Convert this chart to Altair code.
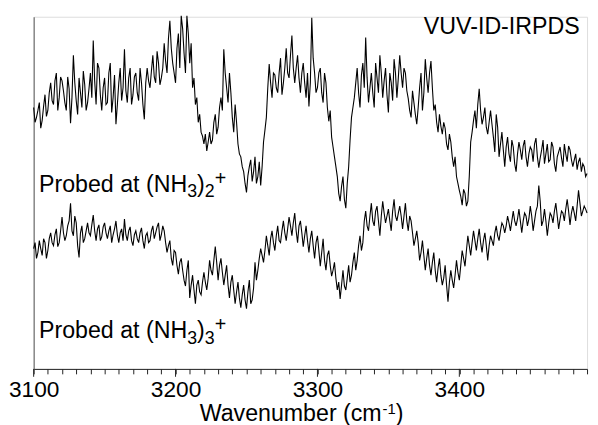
import altair as alt
import pandas as pd

# Wavenumber grids (cm-1)
wn_even = list(range(3100, 3491, 2))
wn_odd = list(range(3101, 3490, 2))

# Ion signal probed at (NH3)2+ (arbitrary units)
probe_nh3_2_even = [
    265, 255, 270, 252, 278, 262, 290, 268, 300, 275,
    292, 270, 296, 249, 318, 272, 295, 265, 288, 270,
    300, 333, 268, 305, 262, 295, 270, 310, 275, 248,
    290, 272, 324, 270, 305, 278, 300, 272, 290, 253,
    305, 285, 318, 290, 310, 295, 330, 300, 353, 310,
    290, 340, 358, 320, 358, 310, 285, 268, 250, 240,
    228, 221, 240, 232, 258, 245, 275, 324, 285, 300,
    255, 268, 228, 215, 200, 179, 205, 190, 215, 195,
    186, 230, 255, 309, 275, 298, 280, 315, 290, 325,
    295, 338, 290, 318, 280, 310, 275, 266, 356, 300,
    285, 305, 270, 290, 251, 235, 215, 195, 170, 195,
    163, 205, 255, 275, 305, 265, 310, 336, 270, 300,
    265, 295, 318, 275, 305, 260, 290, 314, 275, 318,
    285, 300, 274, 255, 270, 248, 285, 262, 314, 280,
    312, 262, 250, 258, 238, 244, 222, 230, 205, 195,
    181, 166, 178, 170, 230, 252, 244, 284, 248, 265,
    238, 262, 235, 258, 215, 240, 205, 235, 210, 225,
    200, 230, 212, 232, 205, 225, 210, 234, 204, 222,
    208, 228, 212, 225, 200, 220, 214, 228, 210, 222,
    205, 218, 210, 200, 205, 198,
]
probe_nh3_2_odd = [
    250, 262, 244, 266, 256, 280, 272, 292, 262, 296,
    282, 262, 284, 275, 290, 258, 280, 302, 262, 284,
    275, 292, 310, 278, 285, 268, 300, 260, 298, 268,
    305, 285, 282, 295, 268, 296, 280, 305, 268, 290,
    292, 302, 296, 322, 288, 305, 312, 335, 325, 300,
    325, 305, 345, 300, 340, 330, 295, 275, 258, 236,
    238, 230, 228, 250, 238, 265, 262, 300, 270, 280,
    240, 250, 218, 205, 188, 196, 212, 200, 188, 210,
    205, 242, 285, 290, 300, 285, 300, 278, 305, 300,
    318, 305, 305, 295, 300, 290, 300, 290, 315, 280,
    300, 280, 300, 265, 262, 225, 205, 178, 185, 172,
    188, 232, 265, 290, 280, 298, 285, 295, 285, 280,
    310, 280, 300, 292, 278, 300, 272, 300, 295, 300,
    305, 282, 262, 282, 258, 265, 300, 280, 295, 300,
    285, 268, 240, 246, 250, 228, 238, 215, 215, 188,
    175, 182, 165, 195, 240, 262, 268, 262, 255, 245,
    250, 248, 220, 245, 228, 222, 225, 218, 232, 208,
    218, 222, 226, 215, 218, 222, 228, 215, 214, 232,
    218, 210, 230, 208, 215, 225, 205, 218, 226, 212,
    212, 202, 214, 208, 195,
]

# Ion signal probed at (NH3)3+ (arbitrary units)
probe_nh3_3_even = [
    122, 112, 130, 115, 128, 120, 138, 125, 142, 128,
    154, 130, 145, 168, 135, 148, 113, 145, 132, 148,
    135, 156, 130, 146, 134, 148, 132, 145, 136, 150,
    128, 142, 152, 130, 144, 125, 140, 128, 143, 122,
    138, 130, 145, 138, 148, 136, 140, 118, 130, 105,
    118, 96, 112, 90, 100, 72, 95, 66, 90, 75,
    98, 80, 110, 95, 124, 90, 112, 85, 105, 72,
    95, 66, 88, 62, 85, 61, 90, 70, 108, 100,
    122, 108, 135, 115, 140, 120, 145, 128, 150, 130,
    154, 135, 158, 128, 150, 124, 145, 118, 140, 112,
    135, 104, 132, 100, 120, 94, 108, 80, 71, 100,
    80, 105, 95, 118, 110, 135, 128, 160, 140, 168,
    145, 165, 135, 170, 148, 162, 140, 172, 150, 165,
    142, 168, 140, 150, 125, 140, 110, 130, 100, 122,
    95, 118, 88, 112, 85, 105, 68, 100, 82, 110,
    90, 120, 104, 135, 115, 140, 120, 142, 118, 138,
    110, 135, 125, 145, 130, 148, 138, 155, 140, 160,
    145, 162, 138, 158, 145, 165, 140, 160, 186, 145,
    162, 135, 158, 148, 168, 142, 160, 150, 172, 146,
    165, 150, 181, 155, 165, 158,
]
probe_nh3_3_odd = [
    128, 118, 122, 132, 112, 132, 128, 136, 124, 140,
    138, 135, 150, 140, 155, 125, 138, 128, 140, 138,
    146, 140, 142, 130, 144, 138, 140, 128, 142, 136,
    138, 130, 136, 140, 130, 136, 132, 138, 130, 135,
    128, 140, 132, 144, 130, 145, 128, 125, 112, 120,
    105, 108, 100, 84, 110, 85, 80, 85, 78, 88,
    88, 92, 100, 110, 108, 105, 98, 95, 85, 88,
    80, 78, 72, 75, 70, 78, 66, 82, 90, 112,
    115, 120, 125, 132, 128, 135, 130, 140, 138, 142,
    145, 148, 140, 145, 138, 135, 130, 132, 125, 128,
    120, 118, 110, 115, 105, 100, 92, 88, 85, 84,
    92, 88, 108, 100, 125, 120, 150, 145, 155, 150,
    160, 150, 155, 158, 155, 150, 160, 155, 158, 155,
    155, 150, 155, 138, 132, 128, 118, 115, 112, 105,
    108, 100, 102, 95, 92, 85, 88, 90, 95, 98,
    105, 112, 120, 125, 128, 130, 132, 128, 130, 125,
    125, 130, 138, 135, 140, 145, 145, 148, 150, 150,
    152, 150, 150, 155, 152, 155, 150, 165, 170, 150,
    150, 148, 155, 160, 155, 152, 158, 162, 160, 158,
    158, 165, 168, 160, 162,
]

series_names = ["(NH3)2+", "(NH3)3+"]
minor_ticks = list(range(3100, 3491, 10))
major_ticks = [3100, 3200, 3300, 3400]
x_domain = [3100, 3490]
y_domain = [0, 357]

# Annotation anchors (data coordinates)
label_top_anchor = (3103.8, 179.3)
label_bottom_anchor = (3103.8, 31.0)
tag_anchor = (3375.0, 339.3)
xtitle_anchor = (3217.0, -53.3)

FONT = "Liberation Sans"

wn_all = wn_even + wn_odd
df = pd.concat([
    pd.DataFrame({"wavenumber": wn_all, "signal": probe_nh3_2_even + probe_nh3_2_odd,
                  "series": series_names[0]}),
    pd.DataFrame({"wavenumber": wn_all, "signal": probe_nh3_3_even + probe_nh3_3_odd,
                  "series": series_names[1]}),
]).sort_values(["series", "wavenumber"]).reset_index(drop=True)

x_scale = alt.Scale(domain=x_domain, nice=False, zero=False)
y_scale = alt.Scale(domain=y_domain, nice=False, zero=False)

x_enc = alt.X(
    "wavenumber:Q",
    scale=x_scale,
    axis=alt.Axis(
        values=minor_ticks,
        tickCount=200,
        format="d",
        labelExpr="datum.value % 100 === 0 ? datum.label : ''",
        tickSize=5,
        labelFont=FONT,
        labelFontSize=23,
        labelColor="black",
        labelPadding=5,
        labelFlush=False,
        labelOverlap=False,
        labelBound=False,
        tickColor="#222",
        domainColor="#222",
        tickWidth=1,
        grid=False,
        title=None,
    ),
)
y_enc = alt.Y(
    "signal:Q",
    scale=y_scale,
    axis=alt.Axis(ticks=False, labels=False, grid=False, title=None, domainColor="#555"),
)

lines = alt.Chart(df).mark_line(color="black", strokeWidth=1.1).encode(
    x=x_enc, y=y_enc, detail="series:N", order="wavenumber:Q"
)

major = alt.Chart(pd.DataFrame({"t": major_ticks})).mark_rule(
    color="#222", strokeWidth=1
).encode(x=alt.X("t:Q", scale=x_scale), y=alt.value(357), y2=alt.value(365))


def piece(text, anchor, size, dx=0, dy=0):
    d = pd.DataFrame({"x": [anchor[0]], "y": [anchor[1]], "t": [text]})
    return alt.Chart(d).mark_text(
        align="left", baseline="alphabetic", font=FONT, fontSize=size,
        color="black", dx=dx, dy=dy,
    ).encode(x="x:Q", y="y:Q", text="t:N")


def formula_label(sub2, anchor):
    return [
        piece("Probed at (NH", anchor, 23.5),
        piece("3", anchor, 18, dx=150.2, dy=5.5),
        piece(")", anchor, 23.5, dx=160.2),
        piece(sub2, anchor, 18, dx=168.0, dy=5.5),
        piece("+", anchor, 20, dx=178.0, dy=-7),
    ]


texts = (
    formula_label("2", label_top_anchor)
    + formula_label("3", label_bottom_anchor)
    + [piece("VUV-ID-IRPDS", tag_anchor, 23.5)]
    + [
        piece("Wavenumber (cm", xtitle_anchor, 23.5),
        piece("-1", xtitle_anchor, 15, dx=185.4, dy=-8),
        piece(")", xtitle_anchor, 23.5, dx=198.7),
    ]
)

chart = alt.layer(lines, major, *texts).properties(
    width=561,
    height=357,
    autosize=alt.AutoSizeParams(type="none"),
    padding={"left": 26, "top": 6, "right": 3, "bottom": 54},
).configure_view(stroke=None).configure(background="white")

chart.save("out.html", embed_options={"renderer": "svg", "actions": False})
